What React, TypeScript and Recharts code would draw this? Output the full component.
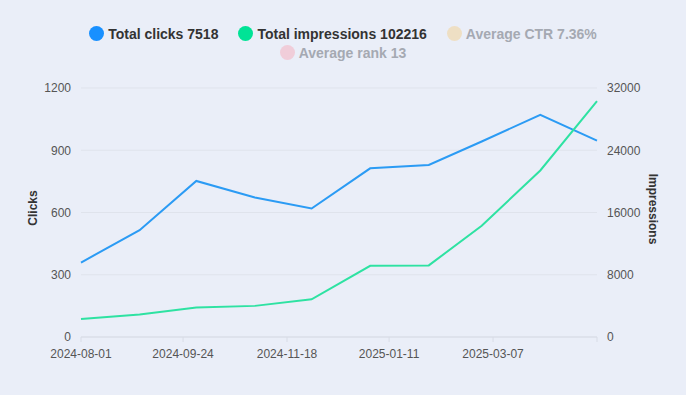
import { LineChart, Line, XAxis, YAxis, CartesianGrid } from 'recharts';

const MONTHS = [
  '2024-08-01', '2024-09-01', '2024-10-01', '2024-11-01', '2024-12-01',
  '2025-01-01', '2025-02-01', '2025-03-01', '2025-04-01', '2025-05-01',
];
const CLICKS = [359, 515, 752, 672, 619, 813, 829, 942, 1071, 946];
const IMPRESSIONS = [2300, 2900, 3800, 4000, 4850, 9150, 9200, 14300, 21400, 30316];

const TICK_LABELS = ['2024-08-01', '2024-09-24', '2024-11-18', '2025-01-11', '2025-03-07'];
const CLICK_TICKS = [0, 300, 600, 900, 1200];
const IMPRESSION_TICKS = [0, 8000, 16000, 24000, 32000];

const LEGEND_ROWS = [
  [
    { name: 'Total clicks 7518', color: '#1890ff', active: true },
    { name: 'Total impressions 102216', color: '#00e396', active: true },
    { name: 'Average CTR 7.36%', color: '#eedfc4', active: false },
  ],
  [{ name: 'Average rank 13', color: '#f0cdd9', active: false }],
];

const COLORS = {
  bg: '#eaeef8',
  grid: '#dfe3ec',
  axis: '#d8dce6',
  tick: '#555',
  clicks: '#2b9bf4',
  impressions: '#2ee2a2',
};

const FONT = '"Liberation Sans", Arial, sans-serif';

const toTime = (d: string) => Date.parse(d + 'T00:00:00Z');

const data = MONTHS.map((m, i) => ({
  t: toTime(m),
  clicks: CLICKS[i],
  impressions: IMPRESSIONS[i],
}));

// last tick sits at the end of the axis and has no label
const xTicks = [...TICK_LABELS.map(toTime), toTime(MONTHS[MONTHS.length - 1])];

const fmtDate = (v: number) => {
  const s = new Date(v).toISOString().slice(0, 10);
  return TICK_LABELS.includes(s) ? s : '';
};

const tickStyle = { fill: COLORS.tick, fontSize: 12, fontFamily: FONT };

function Legend() {
  return (
    <div style={{ position: 'absolute', left: 0, top: 24, width: 686, fontFamily: FONT }}>
      {LEGEND_ROWS.map((row, r) => (
        <div
          key={r}
          style={{ display: 'flex', justifyContent: 'center', gap: 20, height: 19, alignItems: 'center' }}
        >
          {row.map((it) => (
            <div key={it.name} style={{ display: 'flex', alignItems: 'center', gap: 4 }}>
              <span
                style={{ width: 15, height: 15, borderRadius: 8, background: it.color, display: 'inline-block' }}
              />
              <span style={{ fontSize: 14, fontWeight: 700, color: it.active ? '#333' : '#a5a9b2' }}>
                {it.name}
              </span>
            </div>
          ))}
        </div>
      ))}
    </div>
  );
}

export default function App() {
  return (
    <div style={{ position: 'absolute', left: 0, top: 0, width: 686, height: 395, background: COLORS.bg }}>
      <LineChart width={686} height={395} data={data} margin={{ top: 88, right: 0, bottom: 28, left: 0 }}>
        <CartesianGrid yAxisId="left" vertical={false} stroke={COLORS.grid} />
        <XAxis
          dataKey="t"
          type="number"
          domain={['dataMin', 'dataMax']}
          ticks={xTicks}
          tickFormatter={fmtDate}
          interval={0}
          height={30}
          tick={tickStyle}
          tickSize={5}
          tickMargin={7}
          stroke={COLORS.axis}
        />
        <YAxis
          yAxisId="left"
          width={81}
          domain={[0, 1200]}
          ticks={CLICK_TICKS}
          axisLine={false}
          tickLine={false}
          tickSize={0}
          tickMargin={10}
          tick={tickStyle}
        />
        <YAxis
          yAxisId="right"
          orientation="right"
          width={89}
          domain={[0, 32000]}
          ticks={IMPRESSION_TICKS}
          axisLine={false}
          tickLine={false}
          tickSize={0}
          tickMargin={10}
          tick={tickStyle}
        />
        <Line
          yAxisId="left"
          type="linear"
          dataKey="clicks"
          stroke={COLORS.clicks}
          strokeWidth={2}
          dot={false}
          isAnimationActive={false}
        />
        <Line
          yAxisId="right"
          type="linear"
          dataKey="impressions"
          stroke={COLORS.impressions}
          strokeWidth={2}
          dot={false}
          isAnimationActive={false}
        />
      </LineChart>
      <Legend />
      <div
        style={{
          position: 'absolute', left: 33, top: 208, transform: 'translate(-50%, -50%) rotate(-90deg)',
          fontFamily: FONT, fontSize: 12, fontWeight: 700, color: '#333', whiteSpace: 'nowrap',
        }}
      >
        Clicks
      </div>
      <div
        style={{
          position: 'absolute', left: 653, top: 209, transform: 'translate(-50%, -50%) rotate(90deg)',
          fontFamily: FONT, fontSize: 12, fontWeight: 700, color: '#333', whiteSpace: 'nowrap',
        }}
      >
        Impressions
      </div>
    </div>
  );
}
